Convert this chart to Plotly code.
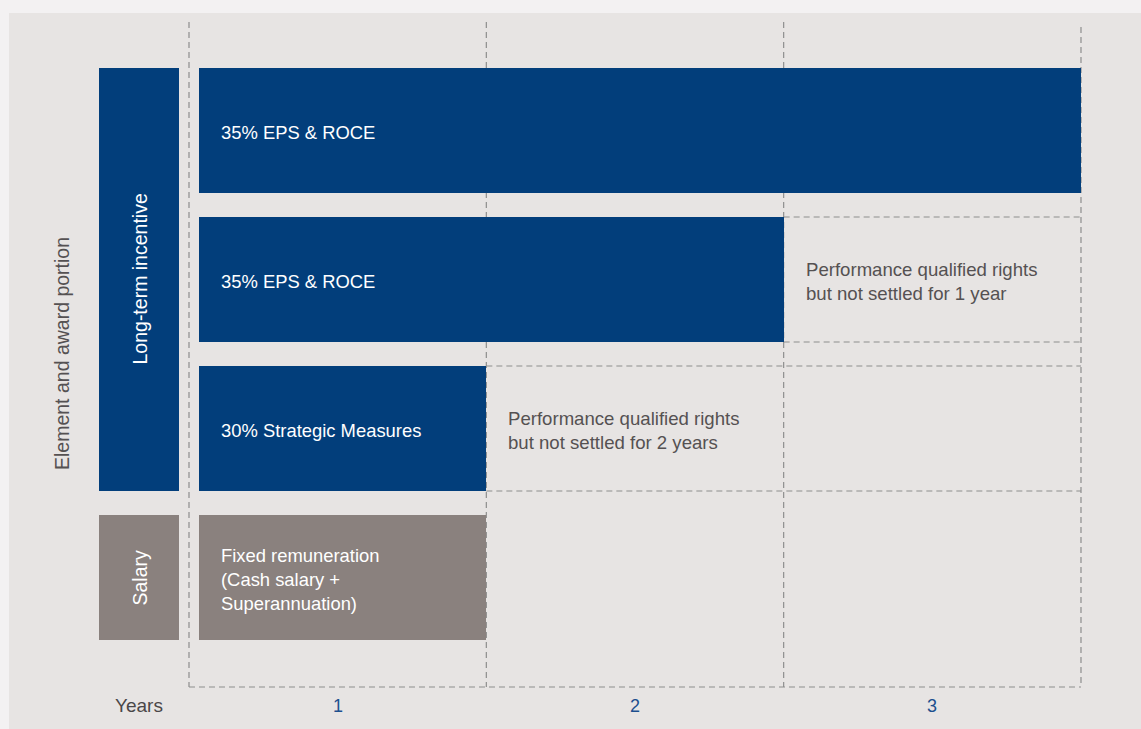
import plotly.graph_objects as go

# ---- data ----
bar_labels = ["35% EPS & ROCE", "35% EPS & ROCE", "30% Strategic Measures",
              "Fixed remuneration<br>(Cash salary +<br>Superannuation)"]
bar_end_years = [3, 2, 1, 1]
bar_kind = ["lti", "lti", "lti", "salary"]
deferred_labels = [None, "Performance qualified rights<br>but not settled for 1 year",
                   "Performance qualified rights<br>but not settled for 2 years", None]
year_ticks = [0.5, 1.5, 2.5]
year_tick_labels = ["1", "2", "3"]
total_years = 3
group_labels = ["Long-term incentive", "Salary"]
group_rows = [[0, 1, 2], [3]]
group_kind = ["lti", "salary"]

# ---- style ----
NAVY = "#023E7B"
GREY_BAR = "#8A817E"
PANEL = "#E7E4E3"
PAGE = "#F3F1F2"
DASH_COL = "#8E8E8E"
TXT_GREY = "#555152"
FONT = "Liberation Sans, Arial, Helvetica, sans-serif"
colors = {"lti": NAVY, "salary": GREY_BAR}

W, H = 1141, 729
X0PX, YEARPX = 189.0, 297.33
ROW0PX, ROWPX = 130.5, 149.0
xr = [(0 - X0PX) / YEARPX, (W - X0PX) / YEARPX]
yr = [(H - ROW0PX) / ROWPX, (0 - ROW0PX) / ROWPX]

bar_h = 125 / 149
start_gap = 10 / YEARPX
text_off = 22 / YEARPX
rows = list(range(len(bar_labels)))

fig = go.Figure()

# main bars
fig.add_trace(go.Bar(
    orientation="h", y=rows, base=[start_gap] * len(rows),
    x=[e - start_gap for e in bar_end_years],
    width=[bar_h] * len(rows),
    marker=dict(color=[colors[k] for k in bar_kind], line=dict(width=0)),
    hoverinfo="skip", showlegend=False))

# group label boxes
gx0 = -90 / YEARPX
gx1 = -start_gap
gy, gw = [], []
for rs in group_rows:
    top = min(rs) - bar_h / 2
    bot = max(rs) + bar_h / 2
    gy.append((top + bot) / 2)
    gw.append(bot - top)
fig.add_trace(go.Bar(
    orientation="h", y=gy, base=[gx0] * len(gy), x=[gx1 - gx0] * len(gy),
    width=gw, marker=dict(color=[colors[k] for k in group_kind], line=dict(width=0)),
    hoverinfo="skip", showlegend=False))

shapes = []
# panel background
shapes.append(dict(type="rect", xref="paper", yref="paper", x0=9 / W, x1=1, y0=0, y1=1 - 13 / H,
                   fillcolor=PANEL, line=dict(width=0), layer="below"))
dash = dict(color=DASH_COL, width=1.2, dash="6px,4px")
bottom_y = (687 - ROW0PX) / ROWPX
for yv in range(total_years + 1):
    top_px = 27 if yv == total_years else 22
    shapes.append(dict(type="line", xref="x", yref="y", x0=yv, x1=yv,
                       y0=(top_px - ROW0PX) / ROWPX, y1=bottom_y, line=dash, layer="below"))
shapes.append(dict(type="line", xref="x", yref="y", x0=0, x1=total_years,
                   y0=bottom_y, y1=bottom_y, line=dash, layer="below"))
for r, lab in enumerate(deferred_labels):
    if lab is None:
        continue
    for yy in (r - bar_h / 2, r + bar_h / 2):
        shapes.append(dict(type="line", xref="x", yref="y", x0=bar_end_years[r], x1=total_years,
                           y0=yy, y1=yy, line=dash, layer="below"))

ann = []
for r, lab in enumerate(bar_labels):
    ann.append(dict(x=start_gap + text_off, y=r, xref="x", yref="y", text=lab, showarrow=False,
                    xanchor="left", yanchor="middle", align="left", yshift=-2, xshift=-2,
                    font=dict(family=FONT, size=18.4, color="white")))
for r, lab in enumerate(deferred_labels):
    if lab is None:
        continue
    ann.append(dict(x=bar_end_years[r] + text_off, y=r, xref="x", yref="y", text=lab, showarrow=False,
                    xanchor="left", yanchor="middle", align="left", yshift=-2, xshift=-2,
                    font=dict(family=FONT, size=18.6, color=TXT_GREY)))
for lab, y, in zip(group_labels, gy):
    ann.append(dict(x=(gx0 + gx1) / 2, y=y, xref="x", yref="y", text=lab, showarrow=False,
                    textangle=-90, xanchor="center", yanchor="middle",
                    font=dict(family=FONT, size=19.5, color="white")))
ann.append(dict(x=(62 - X0PX) / YEARPX, y=(354 - ROW0PX) / ROWPX, xref="x", yref="y",
                text="Element and award portion", showarrow=False, textangle=-90,
                font=dict(family=FONT, size=19.5, color=TXT_GREY)))
ann.append(dict(x=(139 - X0PX) / YEARPX, y=(705 - ROW0PX) / ROWPX, xref="x", yref="y",
                text="Years", showarrow=False, font=dict(family=FONT, size=19, color="#4A4748")))
for tv, tl in zip(year_ticks, year_tick_labels):
    ann.append(dict(x=tv, y=(706 - ROW0PX) / ROWPX, xref="x", yref="y", text=tl, showarrow=False,
                    font=dict(family=FONT, size=18, color="#1C4F8E")))

fig.update_layout(
    width=W, height=H, margin=dict(l=0, r=0, t=0, b=0),
    paper_bgcolor=PAGE, plot_bgcolor="rgba(0,0,0,0)",
    xaxis=dict(range=xr, visible=False, fixedrange=True),
    yaxis=dict(range=yr, visible=False, fixedrange=True),
    shapes=shapes, annotations=ann, barmode="overlay", bargap=0,
)
fig.write_html("out.html")
